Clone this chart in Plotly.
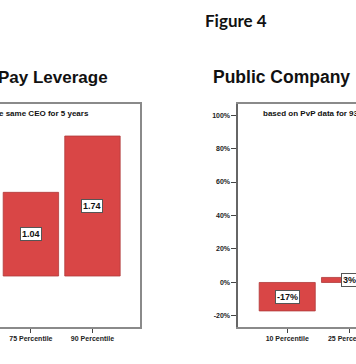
import plotly.graph_objects as go

W, H = 356, 364
FIG_W = 371  # rendered page is photographed slightly compressed horizontally

left_cats = ["75 Percentile", "90 Percentile"]
left_vals = [1.04, 1.74]
left_labels = ["1.04", "1.74"]

right_cats = ["10 Percentile", "25 Percentile"]
right_vals = [-17, 3]
right_labels = ["-17%", "3%"]
right_ticks = [-20, 0, 20, 40, 60, 80, 100]

BAR = "#d94646"
FRAME = "#8a8a8a"
FONT = "Liberation Sans, Arial, sans-serif"

fig = go.Figure()
fig.add_trace(go.Bar(x=left_cats, y=left_vals, xaxis="x", yaxis="y",
                     marker=dict(color=BAR, line=dict(color="#b03a3a", width=0.8)),
                     hoverinfo="skip"))
fig.add_trace(go.Bar(x=right_cats, y=right_vals, xaxis="x2", yaxis="y2",
                     marker=dict(color=BAR, line=dict(color="#b03a3a", width=0.8)),
                     hoverinfo="skip"))

ann = []
for c, v, t in zip(left_cats, left_vals, left_labels):
    ann.append(dict(x=c, y=v / 2, xref="x", yref="y", text="<b>%s</b>" % t, showarrow=False,
                    bgcolor="white", bordercolor="#555", borderwidth=1, borderpad=1,
                    font=dict(family=FONT, size=9, color="#111")))
for c, v, t in zip(right_cats, right_vals, right_labels):
    ann.append(dict(x=c, y=v / 2, xref="x2", yref="y2", text="<b>%s</b>" % t, showarrow=False,
                    bgcolor="white", bordercolor="#555", borderwidth=1, borderpad=1,
                    font=dict(family=FONT, size=9, color="#111")))

ann += [
    dict(x=234 / W, y=1 - 20 / H, xref="paper", yref="paper", text="<b>Figure 4</b>",
         showarrow=False, xanchor="center", yanchor="middle",
         font=dict(family="Lato, sans-serif", size=17, color="#111")),
    dict(x=-4 / W, y=1 - 77 / H, xref="paper", yref="paper", text="<b>Pay Leverage</b>",
         showarrow=False, xanchor="left", yanchor="middle",
         font=dict(family=FONT, size=17, color="#111")),
    dict(x=209 / W, y=1 - 77 / H, xref="paper", yref="paper", text="<b>Public Company</b>",
         showarrow=False, xanchor="left", yanchor="middle",
         font=dict(family=FONT, size=17.5, color="#111")),
    dict(x=-3 / W, y=1 - 113 / H, xref="paper", yref="paper", text="<b>e same CEO for 5 years</b>",
         showarrow=False, xanchor="left", yanchor="middle",
         font=dict(family=FONT, size=8, color="#111")),
    dict(x=259 / W, y=1 - 113 / H, xref="paper", yref="paper", text="<b>based on PvP data for 93</b>",
         showarrow=False, xanchor="left", yanchor="middle",
         font=dict(family=FONT, size=8, color="#111")),
]

ydom = [(H - 327) / H, (H - 104) / H]
tickfont = dict(family=FONT, size=7, color="#222")

fig.update_layout(
    width=FIG_W, height=H, margin=dict(l=0, r=0, t=0, b=0),
    paper_bgcolor="white", plot_bgcolor="white", showlegend=False,
    bargap=0.1, annotations=ann,
    xaxis=dict(domain=[0, 139 / W], range=[-0.502, 1.775], type="category",
               showline=True, linecolor=FRAME, linewidth=2, mirror=True, zeroline=False,
               ticks="outside", ticklen=4, tickcolor="#444", tickwidth=1,
               tickfont=tickfont, tickprefix="<b>", ticksuffix="</b>", showgrid=False),
    yaxis=dict(domain=ydom, range=[-0.634, 2.138], side="right",
               showline=True, linecolor=FRAME, linewidth=2,
               showticklabels=False, ticks="", showgrid=False, zeroline=False),
    xaxis2=dict(domain=[236.5 / W, 1], range=[-0.782, 1.152], type="category", anchor="y2",
                showline=True, linecolor=FRAME, linewidth=2, mirror=True, zeroline=False,
                ticks="outside", ticklen=4, tickcolor="#444", tickwidth=1,
                tickfont=tickfont, tickprefix="<b>", ticksuffix="</b>", showgrid=False),
    yaxis2=dict(domain=ydom, range=[-26.6, 106.6], anchor="x2",
                showline=True, linecolor="#666", linewidth=2,
                tickvals=right_ticks, ticktext=["<b>%d%%</b>" % v for v in right_ticks],
                ticks="outside", ticklen=5, tickcolor="#444", tickwidth=1,
                tickfont=tickfont, showgrid=False, zeroline=False),
)

fig.write_html(
    "out.html",
    config={"displayModeBar": False, "responsive": False},
    post_script=("document.body.style.margin='0';"
                 "document.body.style.overflow='hidden';"
                 "document.documentElement.style.overflow='hidden';"),
)
